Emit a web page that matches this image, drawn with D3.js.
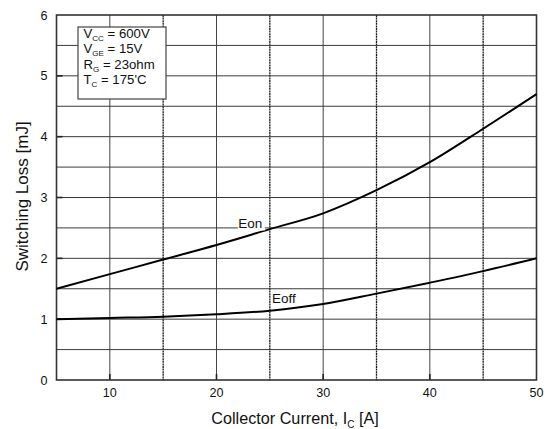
<!DOCTYPE html>
<html>
<head>
<meta charset="utf-8">
<script src="https://cdn.jsdelivr.net/npm/d3@7"></script>
<style>
  html, body { margin: 0; padding: 0; background: #fff; }
  text { font-family: Arial, "Liberation Sans", sans-serif; fill: #111; }
</style>
</head>
<body>
<svg id="chart" width="555" height="429"></svg>
<script>
// Collector current samples [A]
const current = [5, 10, 15, 20, 25, 30, 35, 40, 45, 50];
// Turn-on and turn-off switching energy [mJ]
const eon  = [1.50, 1.74, 1.98, 2.22, 2.48, 2.74, 3.12, 3.58, 4.13, 4.70];
const eoff = [1.00, 1.02, 1.04, 1.08, 1.14, 1.25, 1.42, 1.60, 1.79, 2.00];
// Axis tick labels
const xTicks = [10, 20, 30, 40, 50];
const yTicks = [0, 1, 2, 3, 4, 5, 6];
// Test conditions shown in the legend box
const conditions = [
  { main: "V", sub: "CC", rest: " = 600V" },
  { main: "V", sub: "GE", rest: " = 15V" },
  { main: "R", sub: "G",  rest: " = 23ohm" },
  { main: "T", sub: "C",  rest: " = 175'C" }
];

const svg = d3.select("#chart");
const m = { left: 56.5, right: 536.5, top: 15, bottom: 380 };

const x = d3.scaleLinear().domain([5, 50]).range([m.left, m.right]);
const y = d3.scaleLinear().domain([0, 6]).range([m.bottom, m.top]);

// Grid: solid lines, with dotted verticals on the half-decade steps
const vGrid = d3.range(10, 50, 5);
const hGrid = d3.range(0.5, 6, 0.5);
const g = svg.append("g");
g.selectAll("line.v").data(vGrid).join("line")
  .attr("x1", d => x(d)).attr("x2", d => x(d))
  .attr("y1", m.top).attr("y2", m.bottom)
  .attr("stroke", d => d % 10 === 0 ? "#444" : "#1a1a1a")
  .attr("stroke-width", d => d % 10 === 0 ? 1 : 1.3)
  .attr("stroke-dasharray", d => d % 10 === 0 ? null : "2,0.6");
g.selectAll("line.h").data(hGrid).join("line")
  .attr("x1", m.left).attr("x2", m.right)
  .attr("y1", d => y(d)).attr("y2", d => y(d))
  .attr("stroke", "#3a3a3a")
  .attr("stroke-width", 1);

// Major tick marks pointing into the plot
svg.append("g").selectAll("line").data(xTicks.slice(0, -1)).join("line")
  .attr("x1", d => x(d)).attr("x2", d => x(d))
  .attr("y1", m.bottom).attr("y2", m.bottom - 6)
  .attr("stroke", "#222").attr("stroke-width", 1.6);
svg.append("g").selectAll("line").data(yTicks.slice(1, -1)).join("line")
  .attr("x1", m.left).attr("x2", m.left + 6)
  .attr("y1", d => y(d)).attr("y2", d => y(d))
  .attr("stroke", "#222").attr("stroke-width", 1.6);

// Frame
svg.append("rect")
  .attr("x", m.left).attr("y", m.top)
  .attr("width", m.right - m.left).attr("height", m.bottom - m.top)
  .attr("fill", "none").attr("stroke", "#333").attr("stroke-width", 1.6);

// Tick labels
svg.append("g").selectAll("text").data(xTicks).join("text")
  .attr("x", d => x(d)).attr("y", m.bottom + 17)
  .attr("text-anchor", "middle").attr("font-size", 12.6)
  .text(d => d);
svg.append("g").selectAll("text").data(yTicks).join("text")
  .attr("x", m.left - 9).attr("y", d => y(d) + 4.5)
  .attr("text-anchor", "end").attr("font-size", 12.6)
  .text(d => d);

// Curves
const line = d3.line().x((d, i) => x(current[i])).y(d => y(d)).curve(d3.curveMonotoneX);
[eon, eoff].forEach(s => {
  svg.append("path").datum(s).attr("d", line)
    .attr("fill", "none").attr("stroke", "#000").attr("stroke-width", 2);
});

// Curve labels
const eonLbl = svg.append("g");
eonLbl.append("rect").attr("x", x(22.0)).attr("y", 215).attr("width", 27).attr("height", 15.5).attr("fill", "#fff");
eonLbl.append("text").attr("x", x(22.05)).attr("y", 227.5)
  .attr("font-size", 13.5).text("Eon");
svg.append("text").attr("x", x(25.2)).attr("y", 303)
  .attr("font-size", 13.5).text("Eoff");

// Conditions box
const box = svg.append("g").attr("transform", "translate(78,27)");
box.append("rect").attr("width", 88).attr("height", 72)
  .attr("fill", "#fff").attr("stroke", "#444").attr("stroke-width", 1.2);
conditions.forEach((c, i) => {
  const t = box.append("text").attr("x", 5.5).attr("y", 11 + i * 15.3).attr("font-size", 13.2);
  t.append("tspan").text(c.main);
  t.append("tspan").attr("font-size", 8).attr("dy", 3).text(c.sub);
  t.append("tspan").attr("dy", -3).text(c.rest);
});

// Axis titles
const xt = svg.append("text").attr("x", 295).attr("y", 424)
  .attr("text-anchor", "middle").attr("font-size", 16.2);
xt.append("tspan").text("Collector Current, I");
xt.append("tspan").attr("font-size", 10).attr("dy", 3.5).text("C");
xt.append("tspan").attr("dy", -3.5).text(" [A]");

svg.append("text")
  .attr("transform", "translate(28,196.5) rotate(-90)")
  .attr("text-anchor", "middle").attr("font-size", 17)
  .text("Switching Loss [mJ]");
</script>
</body>
</html>
